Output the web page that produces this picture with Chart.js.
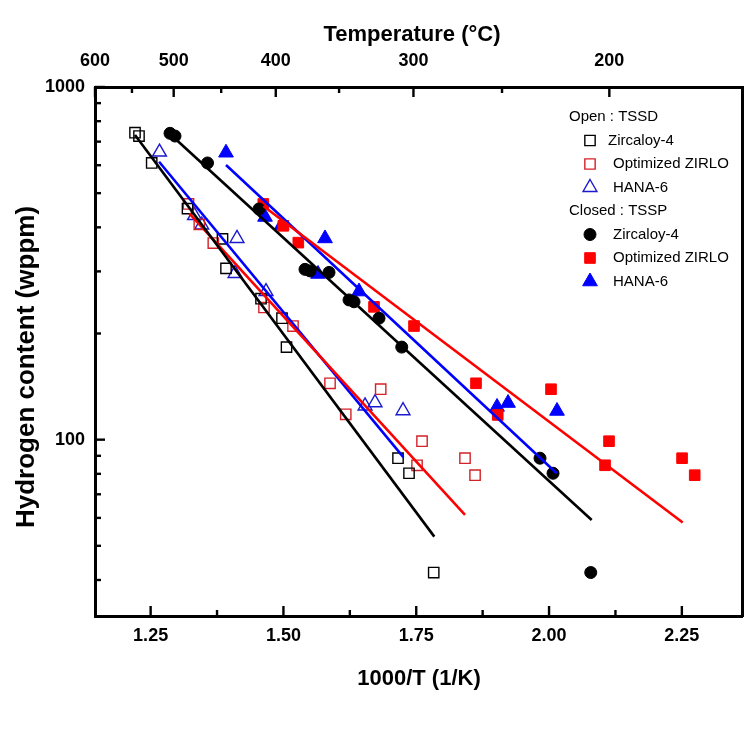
<!DOCTYPE html>
<html><head><meta charset="utf-8">
<script src="https://cdn.jsdelivr.net/npm/chart.js@4.4.1/dist/chart.umd.min.js"></script>
<style>html,body{margin:0;padding:0;background:#fff;}#wrap{width:755px;height:738px;}</style>
</head><body><div id="wrap"><canvas id="c" width="755" height="738"></canvas></div>
<script>
const FONT = "'Liberation Sans', Arial, Helvetica, sans-serif";

// ---- axis ticks ----
const xMajorTicks = [1.25, 1.50, 1.75, 2.00, 2.25];
const xMinorTicks = [1.375, 1.625, 1.875, 2.125];
const tempMajorTicks = [600, 500, 400, 300, 200];
const tempMinorTicks = [550, 450, 350, 250];
const tempRange = [600, 150];
const yMajorTicks = [100, 1000];
const yMinorTicks = [40, 50, 60, 70, 80, 90, 200, 300, 400, 500, 600, 700, 800, 900];
const yRange = [31.62, 1000];

// ---- Open : TSSD ----
const zry4OpenX = [1.2206, 1.2281, 1.2520, 1.3194, 1.3853, 1.3919, 1.4578, 1.4973, 1.5058, 1.7157, 1.7364, 1.7829];
const zry4OpenH = [742, 726, 609, 452, 371, 306, 251, 221, 183, 88.6, 80.3, 42.0];
const zirloOpenX = [1.3213, 1.3416, 1.3680, 1.4634, 1.5180, 1.5877, 1.6173, 1.6831, 1.7609, 1.7515, 1.8418, 1.8607];
const zirloOpenH = [466, 408, 361, 237, 210, 144.5, 118, 139, 99, 84.6, 88.6, 79.3];
const hanaOpenX = [1.2667, 1.3326, 1.3462, 1.4126, 1.4089, 1.4672, 1.6536, 1.6724, 1.7251];
const hanaOpenH = [654, 432, 406, 372, 296, 263, 124.6, 127.3, 120.8];

// ---- Closed : TSSP ----
const zry4ClosedX = [1.2865, 1.2959, 1.3571, 1.4540, 1.5406, 1.5500, 1.5858, 1.6235, 1.6329, 1.6799, 1.7227, 1.9830, 2.0075, 2.0785];
const zry4ClosedH = [739, 726, 609, 451, 304, 301, 298, 249, 246, 221, 183, 88.6, 80.3, 42.0];
const zirloClosedX = [1.4621, 1.4998, 1.5280, 1.6705, 1.7458, 1.8625, 1.9034, 2.0037, 2.1129, 2.1054, 2.2504, 2.2742];
const zirloClosedH = [466, 404, 362, 238, 210, 144.5, 117.5, 139, 99, 84.6, 88.6, 79.3];
const hanaClosedX = [1.3919, 1.4653, 1.4968, 1.5783, 1.5651, 1.6423, 1.9021, 1.9228, 2.0150];
const hanaClosedH = [651, 428, 406, 372, 295, 263, 123.8, 127, 120.6];

// ---- fitted lines (end points) ----
const zry4OpenFitX = [1.2206, 1.7840];   const zry4OpenFitH = [731, 53.1];
const zirloOpenFitX = [1.3228, 1.8418];  const zirloOpenFitH = [438, 61.2];
const hanaOpenFitX = [1.2659, 1.7257];   const hanaOpenFitH = [614, 89.2];
const zry4ClosedFitX = [1.2865, 2.0803]; const zry4ClosedFitH = [736, 59.2];
const zirloClosedFitX = [1.4621, 2.2516];const zirloClosedFitH = [460, 58.2];
const hanaClosedFitX = [1.3919, 2.0144]; const hanaClosedFitH = [601, 80.3];

const pts = (xs, ys) => xs.map((x, i) => ({x, y: ys[i]}));
const toInvT = t => 1000 / (t + 273.15);

const BLACK = '#000000', RED_O = '#d42027', RED = '#ff0000', BLUE_O = '#1a1ad0', BLUE = '#0000ff';

function markerSet(label, xs, ys, style, color, filled, r) {
  return {label, data: pts(xs, ys), showLine: false, order: 2,
    pointStyle: style, pointRadius: r, pointHoverRadius: r,
    pointBorderColor: color, pointBackgroundColor: filled ? color : 'rgba(0,0,0,0)',
    pointBorderWidth: filled ? 1 : 1.4, borderColor: color, backgroundColor: filled ? color : 'rgba(0,0,0,0)'};
}
function fitSet(xs, ys, color) {
  return {label: 'fit', data: pts(xs, ys), showLine: true, order: 0, pointRadius: 0,
    borderColor: color, borderWidth: 2.6, fill: false};
}

const datasets = [
  markerSet('Zircaloy-4', zry4OpenX, zry4OpenH, 'rect', BLACK, false, 7.3),
  markerSet('Optimized ZIRLO', zirloOpenX, zirloOpenH, 'rect', RED_O, false, 7.3),
  markerSet('HANA-6', hanaOpenX, hanaOpenH, 'triangle', BLUE_O, false, 8),
  markerSet('Zircaloy-4', zry4ClosedX, zry4ClosedH, 'circle', BLACK, true, 6),
  markerSet('Optimized ZIRLO', zirloClosedX, zirloClosedH, 'rect', RED, true, 7.5),
  markerSet('HANA-6', hanaClosedX, hanaClosedH, 'triangle', BLUE, true, 8.5),
  fitSet(zry4OpenFitX, zry4OpenFitH, BLACK),
  fitSet(zirloOpenFitX, zirloOpenFitH, RED),
  fitSet(hanaOpenFitX, hanaOpenFitH, BLUE),
  fitSet(zry4ClosedFitX, zry4ClosedFitH, BLACK),
  fitSet(zirloClosedFitX, zirloClosedFitH, RED),
  fitSet(hanaClosedFitX, hanaClosedFitH, BLUE)
];

function drawShape(ctx, style, x, y, r, color, filled, bw) {
  ctx.beginPath();
  if (style === 'rect') {
    const s = Math.SQRT1_2 * r;
    ctx.rect(x - s, y - s, 2 * s, 2 * s);
  } else if (style === 'circle') {
    ctx.arc(x, y, r, 0, Math.PI * 2);
  } else if (style === 'triangle') {
    const h = r * Math.sin(Math.PI / 3);
    ctx.moveTo(x, y - r); ctx.lineTo(x + h, y + r / 2); ctx.lineTo(x - h, y + r / 2); ctx.closePath();
  }
  if (filled) { ctx.fillStyle = color; ctx.fill(); }
  ctx.strokeStyle = color; ctx.lineWidth = bw; ctx.stroke();
}

const legendRows = [
  {text: 'Open : TSSD'},
  {text: 'Zircaloy-4', ds: 0, tx: 608},
  {text: 'Optimized ZIRLO', ds: 1, tx: 613},
  {text: 'HANA-6', ds: 2, tx: 613},
  {text: 'Closed : TSSP'},
  {text: 'Zircaloy-4', ds: 3, tx: 613},
  {text: 'Optimized ZIRLO', ds: 4, tx: 613},
  {text: 'HANA-6', ds: 5, tx: 613}
];

const decorPlugin = {
  id: 'decor',
  afterDraw(chart) {
    const {ctx, chartArea: a, scales} = chart;
    ctx.save();
    // inward ticks
    ctx.strokeStyle = '#000'; ctx.lineWidth = 2.4; ctx.lineCap = 'butt';
    const line = (x1, y1, x2, y2) => { ctx.beginPath(); ctx.moveTo(x1, y1); ctx.lineTo(x2, y2); ctx.stroke(); };
    xMajorTicks.forEach(v => { const p = scales.x.getPixelForValue(v); line(p, a.bottom, p, a.bottom - 10); });
    xMinorTicks.forEach(v => { const p = scales.x.getPixelForValue(v); line(p, a.bottom, p, a.bottom - 6); });
    tempMajorTicks.forEach(t => { const p = scales.xTop.getPixelForValue(toInvT(t)); line(p, a.top, p, a.top + 10); });
    tempMinorTicks.forEach(t => { const p = scales.xTop.getPixelForValue(toInvT(t)); line(p, a.top, p, a.top + 6); });
    yMajorTicks.forEach(v => { const p = scales.y.getPixelForValue(v); line(a.left, p, a.left + 10, p); });
    yMinorTicks.forEach(v => { const p = scales.y.getPixelForValue(v); line(a.left, p, a.left + 6, p); });
    // titles
    ctx.fillStyle = '#000'; ctx.textAlign = 'center'; ctx.textBaseline = 'middle';
    ctx.font = `bold 22px ${FONT}`;
    ctx.fillText('1000/T (1/K)', 419, 679);
    ctx.fillText('Temperature (\u00B0C)', 412, 35);
    ctx.save();
    ctx.translate(27, 367); ctx.rotate(-Math.PI / 2);
    ctx.font = `bold 26px ${FONT}`;
    ctx.fillText('Hydrogen content (wppm)', 0, 0);
    ctx.restore();
    // legend
    ctx.textAlign = 'left'; ctx.font = `15px ${FONT}`;
    legendRows.forEach((r, i) => {
      const y = 117 + i * 23.5;
      if (r.ds === undefined) { ctx.fillStyle = '#000'; ctx.fillText(r.text, 569, y); return; }
      const d = chart.data.datasets[r.ds];
      const filled = d.pointBackgroundColor !== 'rgba(0,0,0,0)';
      drawShape(ctx, d.pointStyle, 590, y, d.pointRadius, d.pointBorderColor, filled, d.pointBorderWidth);
      ctx.fillStyle = '#000'; ctx.fillText(r.text, r.tx, y);
    });
    ctx.restore();
  }
};

const tickFont = {family: FONT, size: 18, weight: 'bold'};
const xMin = toInvT(tempRange[0]), xMax = toInvT(tempRange[1]);

new Chart(document.getElementById('c'), {
  type: 'scatter',
  data: {datasets},
  options: {
    responsive: false, maintainAspectRatio: false, animation: false,
    layout: {padding: 0},
    plugins: {legend: {display: false}, tooltip: {enabled: false}},
    scales: {
      x: {type: 'linear', position: 'bottom', min: xMin, max: xMax,
        afterBuildTicks: s => { s.ticks = xMajorTicks.map(v => ({value: v})); },
        afterFit: s => { s.height = 122; },
        grid: {display: false, drawTicks: false},
        border: {display: true, color: '#000', width: 3},
        ticks: {autoSkip: false, maxRotation: 0, padding: 9, color: '#000', font: tickFont,
          callback: v => Number(v).toFixed(2)}},
      xTop: {type: 'linear', axis: 'x', position: 'top', min: xMin, max: xMax,
        afterBuildTicks: s => { s.ticks = tempMajorTicks.map(t => ({value: toInvT(t)})); },
        afterFit: s => { s.height = 87; },
        grid: {display: false, drawTicks: false},
        border: {display: true, color: '#000', width: 3},
        ticks: {autoSkip: false, maxRotation: 0, padding: 15, color: '#000', font: tickFont,
          callback: v => String(Math.round(1000 / v - 273.15))}},
      y: {type: 'logarithmic', position: 'left', min: yRange[0], max: yRange[1],
        afterBuildTicks: s => { s.ticks = yMajorTicks.map(v => ({value: v})); },
        afterFit: s => { s.width = 95; },
        grid: {display: false, drawTicks: false},
        border: {display: true, color: '#000', width: 3},
        ticks: {autoSkip: false, padding: 10, color: '#000', font: tickFont, callback: v => String(v)}},
      yRight: {type: 'linear', position: 'right', min: 0, max: 1,
        afterFit: s => { s.width = 13; },
        grid: {display: false, drawTicks: false},
        border: {display: true, color: '#000', width: 3},
        ticks: {display: false}}
    }
  },
  plugins: [decorPlugin]
});
</script></body></html>
